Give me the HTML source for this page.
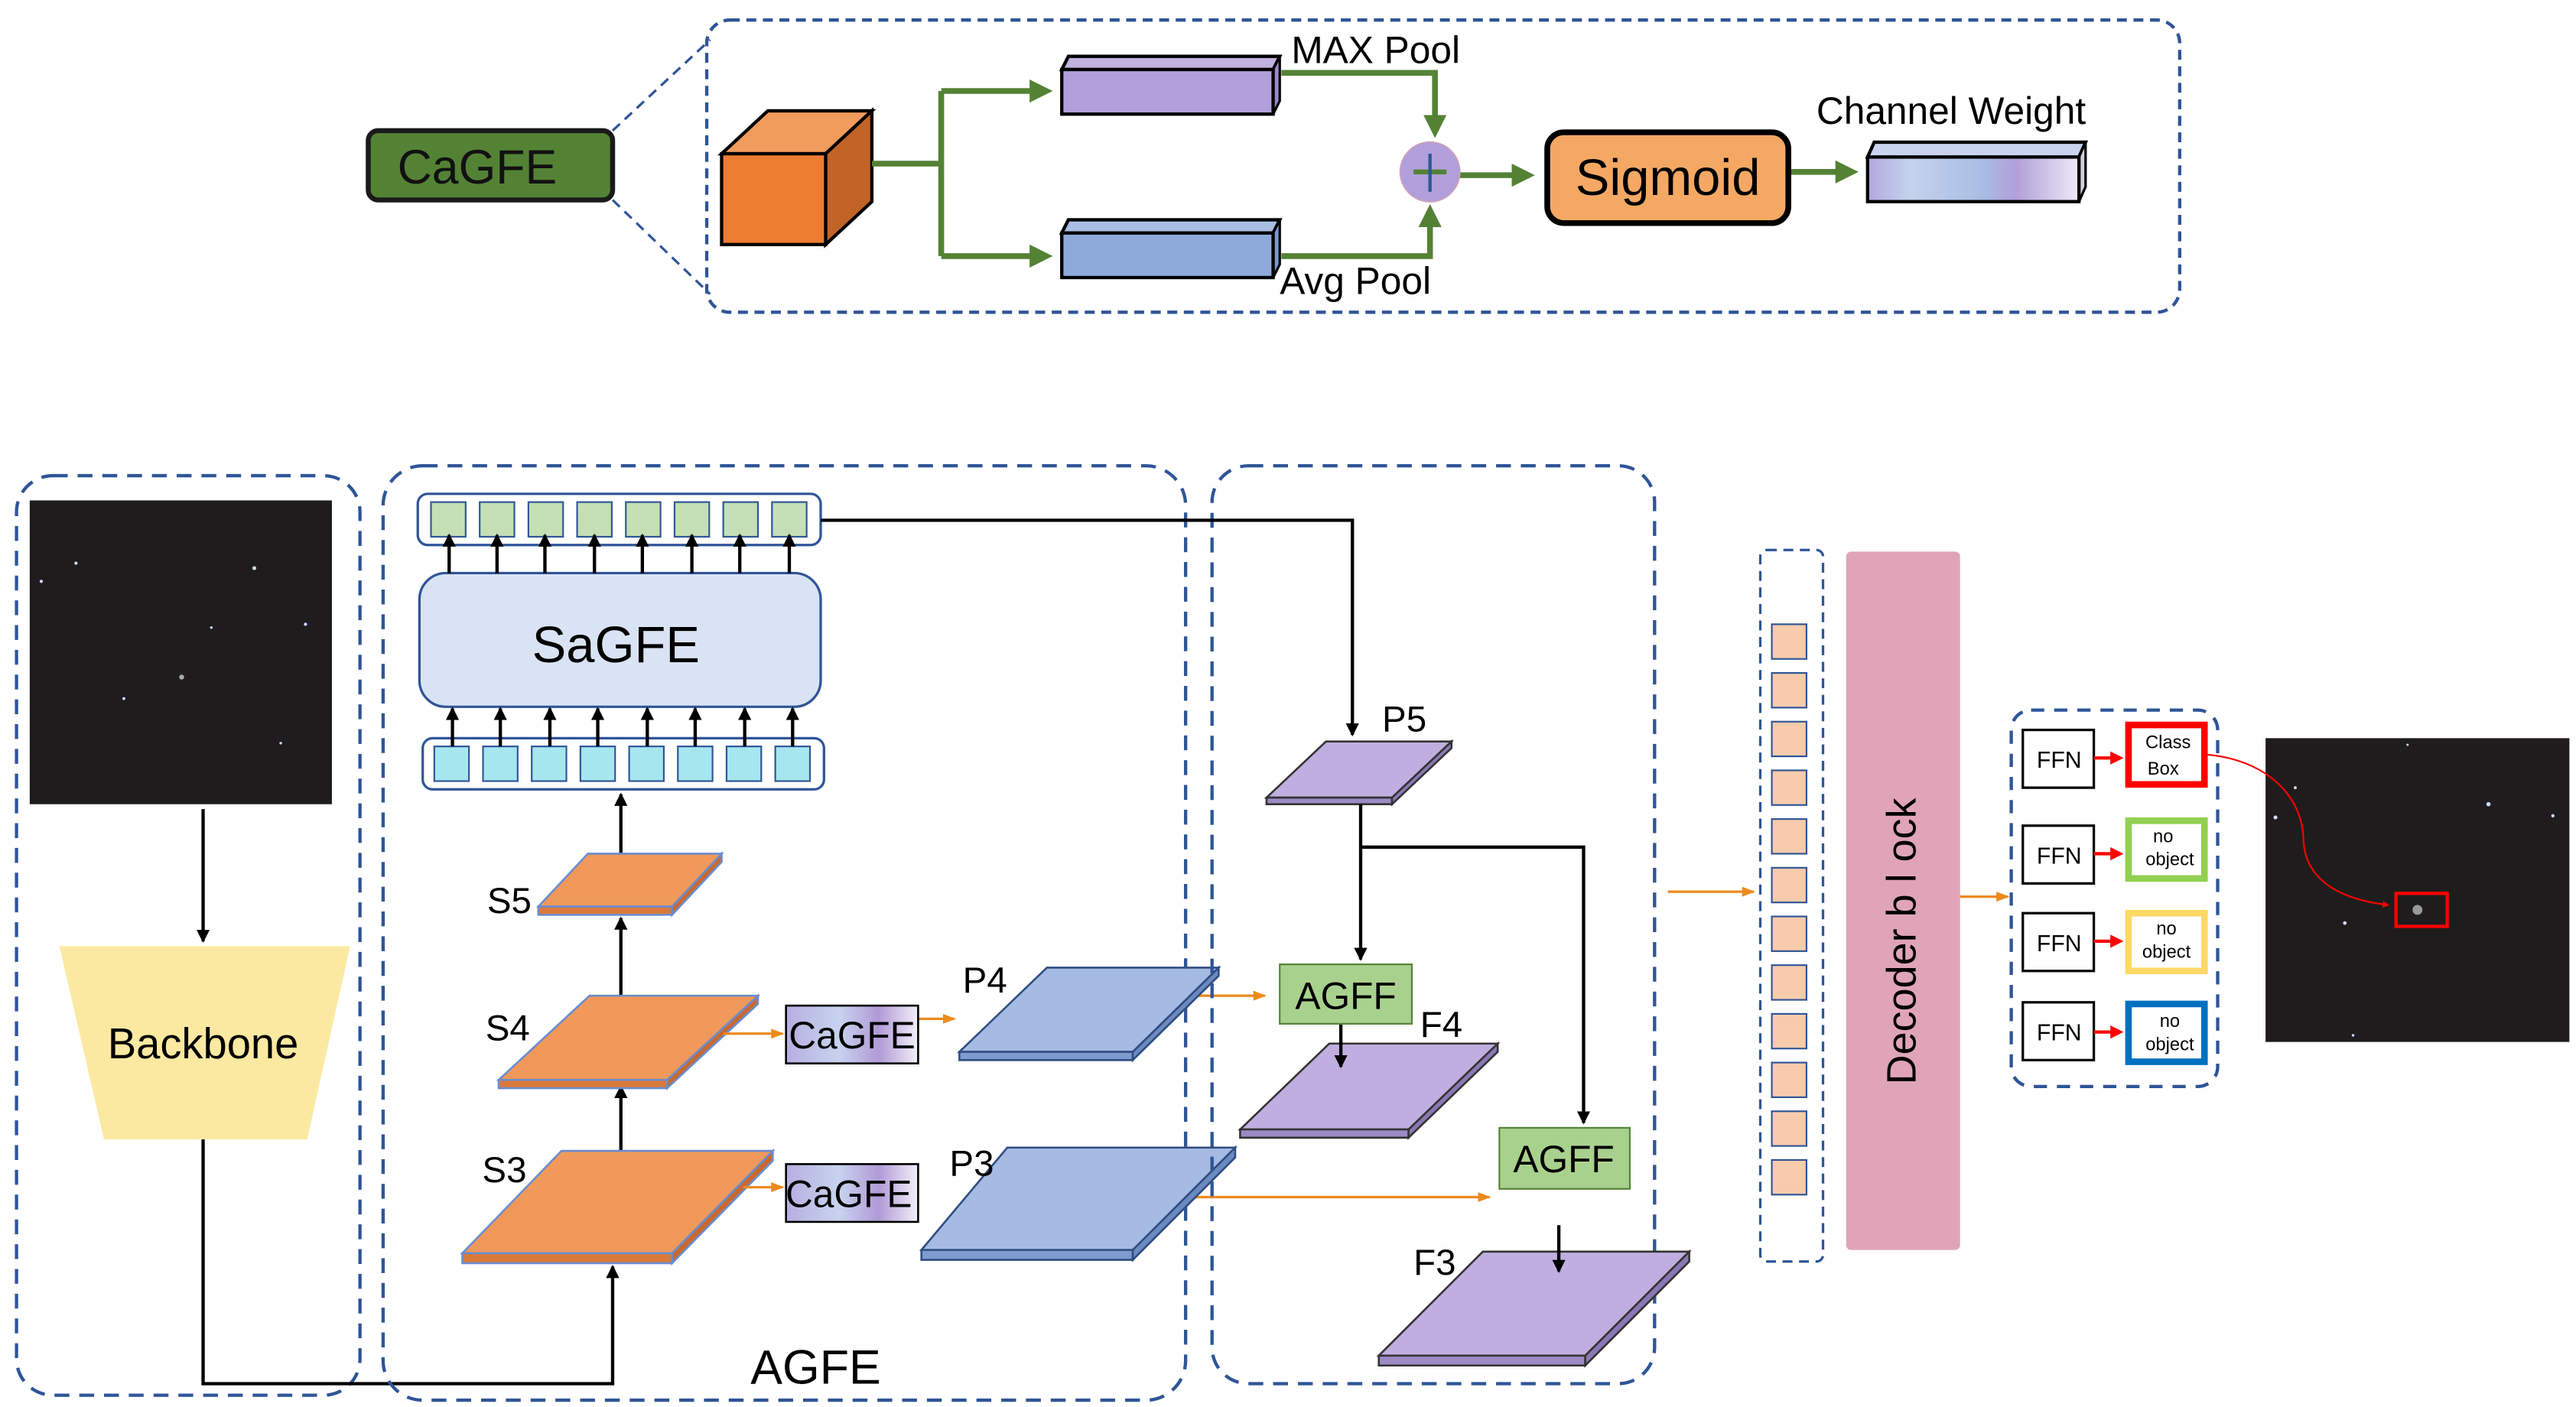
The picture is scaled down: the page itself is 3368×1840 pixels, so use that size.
<!DOCTYPE html>
<html><head><meta charset="utf-8"><style>html,body{margin:0;padding:0;background:#fff}svg{display:block}text{font-family:"Liberation Sans","DejaVu Sans",sans-serif}</style></head>
<body>
<svg width="3368" height="1840" viewBox="0 0 1560 852" xmlns="http://www.w3.org/2000/svg">
<defs>
<marker id="ag" markerWidth="4" markerHeight="4" refX="3" refY="2" orient="auto" markerUnits="strokeWidth"><path d="M0,0 L4,2 L0,4 z" fill="#548235"/></marker>
<marker id="ab" markerWidth="8" markerHeight="8" refX="7" refY="4" orient="auto" markerUnits="userSpaceOnUse"><path d="M0,0 L8,4 L0,8 z" fill="#000"/></marker>
<marker id="ao" markerWidth="8" markerHeight="8" refX="7" refY="4" orient="auto" markerUnits="userSpaceOnUse"><path d="M0,1 L8,4 L0,7 z" fill="#ed8a1c"/></marker>
<marker id="ar" markerWidth="4" markerHeight="4" refX="3" refY="2" orient="auto" markerUnits="strokeWidth"><path d="M0,0 L4,2 L0,4 z" fill="#f00"/></marker>
<linearGradient id="cw" x1="0" x2="1"><stop offset="0" stop-color="#b4a7dd"/><stop offset="0.2" stop-color="#c3d3ec"/><stop offset="0.55" stop-color="#a9bde3"/><stop offset="0.7" stop-color="#b09fd8"/><stop offset="1" stop-color="#eeeaf7"/></linearGradient>
<linearGradient id="cg" x1="0" x2="1"><stop offset="0" stop-color="#b6aee0"/><stop offset="0.4" stop-color="#c7d4ee"/><stop offset="0.7" stop-color="#b19ad6"/><stop offset="1" stop-color="#f2f0f8"/></linearGradient>
</defs>

<!-- TOP -->
<rect x="223" y="79" width="148" height="42" rx="6" fill="#548235" stroke="#1a1a1a" stroke-width="3"/>
<text x="289" y="111" font-size="29" text-anchor="middle" fill="#111">CaGFE</text>
<line x1="371" y1="79" x2="430" y2="24" stroke="#2f5597" stroke-width="1.5" stroke-dasharray="6,4"/>
<line x1="371" y1="121" x2="430" y2="178" stroke="#2f5597" stroke-width="1.5" stroke-dasharray="6,4"/>
<rect x="428" y="12" width="892" height="177" rx="14" fill="none" stroke="#2f5597" stroke-width="2" stroke-dasharray="6,4"/>
<!-- orange cube -->
<polygon points="437,93 465,67 528,67 500,93" fill="#f19b5c" stroke="#000" stroke-width="2"/>
<polygon points="500,93 528,67 528,122 500,148" fill="#c26428" stroke="#000" stroke-width="2"/>
<rect x="437" y="93" width="63" height="55" fill="#ed7d31" stroke="#000" stroke-width="2"/>
<!-- green arrows -->
<g stroke="#548235" stroke-width="3.5" fill="none">
<polyline points="528,99 570,99"/>
<polyline points="570,55 570,155"/>
<line x1="570" y1" y2="" x2="570"/>
<line x1="570" y1="55" x2="634" y2="55" marker-end="url(#ag)"/>
<line x1="570" y1="155" x2="634" y2="155" marker-end="url(#ag)"/>
<polyline points="776,44 869,44 869,80" marker-end="url(#ag)"/>
<polyline points="776,155 866,155 866,127" marker-end="url(#ag)"/>
<line x1="884" y1="106" x2="926" y2="106" marker-end="url(#ag)"/>
<line x1="1084" y1="104" x2="1122" y2="104" marker-end="url(#ag)"/>
</g>
<!-- purple box -->
<polygon points="643,42 647,34 775,34 771,42" fill="#c0b0de" stroke="#000" stroke-width="2"/>
<polygon points="771,42 775,34 775,61 771,69" fill="#9a8cc7" stroke="#000" stroke-width="1.5"/>
<rect x="643" y="42" width="128" height="27" fill="#b09fda" stroke="#000" stroke-width="2"/>
<!-- blue box -->
<polygon points="643,141 647,133 775,133 771,141" fill="#a8bce4" stroke="#000" stroke-width="2"/>
<polygon points="771,141 775,133 775,160 771,168" fill="#7d98cc" stroke="#000" stroke-width="1.5"/>
<rect x="643" y="141" width="128" height="27" fill="#8eaadb" stroke="#000" stroke-width="2"/>
<text x="782" y="38" font-size="23">MAX  Pool</text>
<text x="775" y="178" font-size="23">Avg  Pool</text>
<ellipse cx="866" cy="104" rx="18" ry="18" fill="#b09fda" stroke="#c9a0c0" stroke-width="1"/>
<line x1="856" y1="104" x2="876" y2="104" stroke="#548235" stroke-width="3"/>
<line x1="866" y1="93" x2="866" y2="116" stroke="#2f5597" stroke-width="2"/>
<rect x="937" y="80" width="146" height="55" rx="10" fill="#f4a864" stroke="#000" stroke-width="3.5"/>
<text x="1010" y="118" font-size="31" text-anchor="middle">Sigmoid</text>
<polygon points="1131,95 1135,86 1263,86 1259,95" fill="#c9d3ee" stroke="#000" stroke-width="2"/>
<polygon points="1259,95 1263,86 1263,113 1259,122" fill="#d0d0d6" stroke="#000" stroke-width="1.5"/>
<rect x="1131" y="95" width="128" height="27" fill="url(#cw)" stroke="#000" stroke-width="2"/>
<text x="1100" y="75" font-size="23">Channel  Weight</text>

<!-- BOTTOM LEFT -->
<rect x="10" y="288" width="208" height="557" rx="22" fill="none" stroke="#2f5597" stroke-width="2" stroke-dasharray="9,6"/>
<rect x="18" y="303" width="183" height="184" fill="#1e1c1c"/>
<g fill="#cfd8ff"><circle cx="46" cy="341" r="1"/><circle cx="154" cy="344" r="1.2"/><circle cx="185" cy="378" r="1"/><circle cx="25" cy="352" r="1"/><circle cx="75" cy="423" r="0.9"/><circle cx="128" cy="380" r="0.8"/><circle cx="170" cy="450" r="0.8"/><circle cx="110" cy="410" r="1.5" fill="#aaa"/></g>
<line x1="123" y1="490" x2="123" y2="570" stroke="#000" stroke-width="2" marker-end="url(#ab)"/>
<polygon points="36,573 212,573 186,690 63,690" fill="#fce9a1"/>
<text x="123" y="641" font-size="26" text-anchor="middle">Backbone</text>
<polyline points="123,690 123,838 371,838 371,767" fill="none" stroke="#000" stroke-width="2" marker-end="url(#ab)"/>

<!-- AGFE -->
<rect x="232" y="282" width="486" height="566" rx="24" fill="none" stroke="#2f5597" stroke-width="2" stroke-dasharray="9,6"/>
<text x="494" y="838" font-size="29" text-anchor="middle">AGFE</text>
<rect x="253" y="299" width="244" height="31" rx="6" fill="#fff" stroke="#2f5597" stroke-width="1.5"/>
<rect x="254" y="347" width="243" height="81" rx="16" fill="#dae3f3" stroke="#2f5597" stroke-width="1.5"/>
<text x="373" y="401" font-size="31" text-anchor="middle">SaGFE</text>
<rect x="256" y="447" width="243" height="31" rx="6" fill="#fff" stroke="#2f5597" stroke-width="1.5"/>
<g stroke="#2f5597" stroke-width="1">
<rect x="261" y="304" width="21" height="21" fill="#c5e0b4"/><rect x="290.5" y="304" width="21" height="21" fill="#c5e0b4"/><rect x="320" y="304" width="21" height="21" fill="#c5e0b4"/><rect x="349.5" y="304" width="21" height="21" fill="#c5e0b4"/><rect x="379" y="304" width="21" height="21" fill="#c5e0b4"/><rect x="408.5" y="304" width="21" height="21" fill="#c5e0b4"/><rect x="438" y="304" width="21" height="21" fill="#c5e0b4"/><rect x="467.5" y="304" width="21" height="21" fill="#c5e0b4"/>
<rect x="263" y="452" width="21" height="21" fill="#a6e6ef"/><rect x="292.5" y="452" width="21" height="21" fill="#a6e6ef"/><rect x="322" y="452" width="21" height="21" fill="#a6e6ef"/><rect x="351.5" y="452" width="21" height="21" fill="#a6e6ef"/><rect x="381" y="452" width="21" height="21" fill="#a6e6ef"/><rect x="410.5" y="452" width="21" height="21" fill="#a6e6ef"/><rect x="440" y="452" width="21" height="21" fill="#a6e6ef"/><rect x="469.5" y="452" width="21" height="21" fill="#a6e6ef"/>
</g>
<g stroke="#000" stroke-width="2" marker-end="url(#ab)">
<line x1="272" y1="347" x2="272" y2="324"/><line x1="301" y1="347" x2="301" y2="324"/><line x1="330" y1="347" x2="330" y2="324"/><line x1="360" y1="347" x2="360" y2="324"/><line x1="389" y1="347" x2="389" y2="324"/><line x1="419" y1="347" x2="419" y2="324"/><line x1="448" y1="347" x2="448" y2="324"/><line x1="478" y1="347" x2="478" y2="324"/>
<line x1="274" y1="452" x2="274" y2="429"/><line x1="303" y1="452" x2="303" y2="429"/><line x1="333" y1="452" x2="333" y2="429"/><line x1="362" y1="452" x2="362" y2="429"/><line x1="392" y1="452" x2="392" y2="429"/><line x1="421" y1="452" x2="421" y2="429"/><line x1="451" y1="452" x2="451" y2="429"/><line x1="480" y1="452" x2="480" y2="429"/>
<line x1="376" y1="535" x2="376" y2="481"/>
<line x1="376" y1="628" x2="376" y2="556"/>
<line x1="376" y1="727" x2="376" y2="658"/>
</g>
<!-- S plates -->
<g stroke="#6b8ccf" stroke-width="1.2">
<polygon points="326,549 356,517 437,517 407,549" fill="#f0995a"/>
<polygon points="326,549 407,549 407,554 326,554" fill="#d97a3a"/>
<polygon points="407,549 437,517 437,522 407,554" fill="#c86a30"/>
<polygon points="302,654 357,603 459,603 404,654" fill="#f0995a"/>
<polygon points="302,654 404,654 404,659 302,659" fill="#d97a3a"/>
<polygon points="404,654 459,603 459,608 404,659" fill="#c86a30"/>
<polygon points="280,759 340,697 468,697 407,759" fill="#f0995a"/>
<polygon points="280,759 407,759 407,765 280,765" fill="#d97a3a"/>
<polygon points="407,759 468,697 468,703 407,765" fill="#c86a30"/>
</g>
<text x="295" y="553" font-size="22">S5</text>
<text x="294" y="630" font-size="22">S4</text>
<text x="292" y="716" font-size="22">S3</text>
<g stroke="#ed8a1c" stroke-width="1.5" marker-end="url(#ao)">
<line x1="438" y1="626" x2="474" y2="626"/>
<line x1="450" y1="719" x2="474" y2="719"/>
<line x1="556" y1="617" x2="578" y2="617"/>
<line x1="724" y1="603" x2="766" y2="603"/>
<line x1="720" y1="725" x2="902" y2="725"/>
<line x1="1010" y1="540" x2="1062" y2="540"/>
<line x1="1187" y1="543" x2="1216" y2="543"/>
</g>
<rect x="476" y="609" width="80" height="35" fill="url(#cg)" stroke="#000" stroke-width="1.2"/>
<text x="516" y="635" font-size="23" text-anchor="middle">CaGFE</text>
<rect x="476" y="705" width="80" height="35" fill="url(#cg)" stroke="#000" stroke-width="1.2"/>
<text x="514" y="731" font-size="23" text-anchor="middle">CaGFE</text>
<!-- P plates -->
<g stroke="#2f4d80" stroke-width="1.2">
<polygon points="581,637 634,586 738,586 686,637" fill="#a6bbe3"/>
<polygon points="581,637 686,637 686,642 581,642" fill="#7e9bd0"/>
<polygon points="686,637 738,586 738,591 686,642" fill="#6c89c0"/>
<polygon points="558,757 610,695 748,695 686,757" fill="#a6bbe3"/>
<polygon points="558,757 686,757 686,763 558,763" fill="#7e9bd0"/>
<polygon points="686,757 748,695 748,701 686,763" fill="#6c89c0"/>
</g>
<text x="583" y="601" font-size="22">P4</text>
<text x="575" y="712" font-size="22">P3</text>

<!-- right dashed -->
<rect x="734" y="282" width="268" height="556" rx="22" fill="none" stroke="#2f5597" stroke-width="2" stroke-dasharray="9,6"/>
<polyline points="497,315 819,315 819,445" fill="none" stroke="#000" stroke-width="2" marker-end="url(#ab)"/>
<g stroke="#333" stroke-width="1.2">
<polygon points="767,483 803,449 879,449 843,483" fill="#c0aee0"/>
<polygon points="767,483 843,483 843,487 767,487" fill="#9c89c6"/>
<polygon points="843,483 879,449 879,453 843,487" fill="#8a78b5"/>
<polygon points="751,684 805,632 907,632 853,684" fill="#c0aee0"/>
<polygon points="751,684 853,684 853,689 751,689" fill="#9c89c6"/>
<polygon points="853,684 907,632 907,637 853,689" fill="#8a78b5"/>
<polygon points="835,821 898,758 1023,758 960,821" fill="#c0aee0"/>
<polygon points="835,821 960,821 960,827 835,827" fill="#9c89c6"/>
<polygon points="960,821 1023,758 1023,764 960,827" fill="#8a78b5"/>
</g>
<text x="837" y="443" font-size="22">P5</text>
<text x="860" y="628" font-size="22">F4</text>
<text x="856" y="772" font-size="22">F3</text>
<g fill="none" stroke="#000" stroke-width="2">
<line x1="824" y1="487" x2="824" y2="581" marker-end="url(#ab)"/>
<polyline points="824,513 959,513 959,680" marker-end="url(#ab)"/>
<line x1="812" y1="620" x2="812" y2="646" marker-end="url(#ab)"/>
<line x1="944" y1="742" x2="944" y2="770" marker-end="url(#ab)"/>
</g>
<rect x="775" y="584" width="80" height="36" fill="#a9d18e" stroke="#548235" stroke-width="1"/>
<text x="815" y="611" font-size="23" text-anchor="middle">AGFF</text>
<rect x="908" y="683" width="79" height="37" fill="#a9d18e" stroke="#548235" stroke-width="1"/>
<text x="947" y="710" font-size="23" text-anchor="middle">AGFF</text>

<!-- token column -->
<rect x="1066" y="333" width="38" height="431" rx="4" fill="none" stroke="#2f5597" stroke-width="1.5" stroke-dasharray="6,4"/>
<g fill="#f8cbad" stroke="#2f5597" stroke-width="1">
<rect x="1073" y="378" width="21" height="21"/><rect x="1073" y="407.5" width="21" height="21"/><rect x="1073" y="437" width="21" height="21"/><rect x="1073" y="466.5" width="21" height="21"/><rect x="1073" y="496" width="21" height="21"/><rect x="1073" y="525.5" width="21" height="21"/><rect x="1073" y="555" width="21" height="21"/><rect x="1073" y="584.5" width="21" height="21"/><rect x="1073" y="614" width="21" height="21"/><rect x="1073" y="643.5" width="21" height="21"/><rect x="1073" y="673" width="21" height="21"/><rect x="1073" y="702.5" width="21" height="21"/>
</g>
<rect x="1118" y="334" width="69" height="423" rx="3" fill="#e0a4b8"/>
<text transform="translate(1160,570) rotate(-90)" font-size="25" text-anchor="middle">Decoder  b l ock</text>

<!-- FFN -->
<rect x="1218" y="430" width="125" height="228" rx="12" fill="none" stroke="#2f5597" stroke-width="2" stroke-dasharray="8,6"/>
<g stroke="#000" stroke-width="1.5" fill="#fff">
<rect x="1225" y="442" width="43" height="35"/><rect x="1225" y="500" width="43" height="35"/><rect x="1225" y="553" width="43" height="35"/><rect x="1225" y="607" width="43" height="35"/>
</g>
<g font-size="14" text-anchor="middle"><text x="1247" y="465">FFN</text><text x="1247" y="523">FFN</text><text x="1247" y="576">FFN</text><text x="1247" y="630">FFN</text></g>
<g stroke="#f00" stroke-width="2" marker-end="url(#ar)">
<line x1="1268" y1="459" x2="1284" y2="459"/><line x1="1268" y1="517" x2="1284" y2="517"/><line x1="1268" y1="570" x2="1284" y2="570"/><line x1="1268" y1="625" x2="1284" y2="625"/>
</g>
<g fill="#fff" stroke-width="4">
<rect x="1289" y="439" width="46" height="36" stroke="#f00"/>
<rect x="1289" y="497" width="46" height="35" stroke="#92d050"/>
<rect x="1289" y="553" width="46" height="35" stroke="#ffd966"/>
<rect x="1289" y="608" width="46" height="35" stroke="#0070c0"/>
</g>
<g font-size="11" text-anchor="middle">
<text x="1313" y="453">Class</text><text x="1310" y="469">Box</text>
<text x="1310" y="510">no</text><text x="1314" y="524">object</text>
<text x="1312" y="566">no</text><text x="1312" y="580">object</text>
<text x="1314" y="622">no</text><text x="1314" y="636">object</text>
</g>
<rect x="1372" y="447" width="184" height="184" fill="#1e1c1c"/>
<g fill="#cfd8ff"><circle cx="1378" cy="495" r="1.2"/><circle cx="1390" cy="477" r="0.9"/><circle cx="1507" cy="487" r="1.3"/><circle cx="1546" cy="494" r="1"/><circle cx="1420" cy="559" r="1.1"/><circle cx="1425" cy="627" r="0.8"/><circle cx="1458" cy="451" r="0.7"/></g>
<path d="M1337,457 C1370,460 1395,480 1395,510 C1397,535 1420,545 1446,548" fill="none" stroke="#f00" stroke-width="1" marker-end="url(#ar)"/>
<rect x="1451" y="541" width="31" height="20" fill="none" stroke="#f00" stroke-width="2"/>
<circle cx="1464" cy="551" r="3" fill="#999"/>
</svg>
</body></html>
